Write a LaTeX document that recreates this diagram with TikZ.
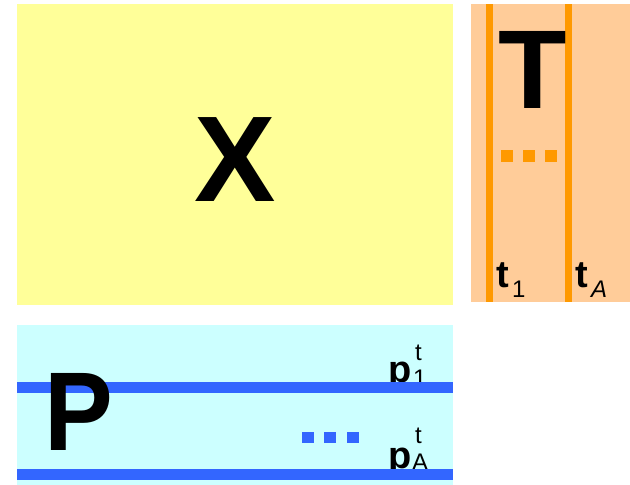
\documentclass[tikz,border=0pt]{standalone}
\usepackage{fontspec}
\setmainfont{Liberation Sans}
\definecolor{xyellow}{HTML}{FFFF99}
\definecolor{tpeach}{HTML}{FFCC99}
\definecolor{torange}{HTML}{FF9900}
\definecolor{pcyan}{HTML}{CCFFFF}
\definecolor{pblue}{HTML}{3366FF}
\begin{document}
\begin{tikzpicture}[x=1pt,y=-1pt,
  bigletter/.style={inner sep=0pt, anchor=base, font=\bfseries\fontsize{#1}{#1}\selectfont},
  vec/.style={inner sep=0pt, anchor=base west, font=\bfseries\fontsize{38}{40}\selectfont},
  idx/.style={inner sep=0pt, anchor=base west, font=\fontsize{24}{26}\selectfont},
  tline/.style={torange, line width=7pt},
  pline/.style={pblue, line width=11pt},
]
\useasboundingbox (0,0) rectangle (630,485);
% X block
\fill[xyellow] (17,4) rectangle (453,305);
\node[bigletter=122] (X) at (235,201) {X};
% T block
\fill[tpeach] (471,4) rectangle (630,302);
\draw[tline] (489.5,4) -- (489.5,302);
\draw[tline] (568.5,4) -- (568.5,302);
\node[bigletter=112] (T) at (532.5,108) {T};
\foreach \x in {501,523,545}
  \fill[torange] (\x,150) rectangle ++(11.5,12);
\node[vec] (t1) at (496,287) {t};
\node[idx] (t1i) at (512,297) {1};
\node[vec] (tA) at (575,287) {t};
\node[idx] (tAi) at (591,297) {\itshape A};
% P block
\fill[pcyan] (17,325) rectangle (453,485);
\node[vec] (p1) at (388,382) {p};
\node[idx] (p1i) at (413,386) {1};
\node[idx] (p1s) at (415,360) {t};
\node[vec] (pA) at (388,468) {p};
\node[idx] (pAi) at (412,470) {A};
\node[idx] (pAs) at (415,443) {t};
\draw[pline] (17,387.5) -- (453,387.5);
\draw[pline] (17,474) -- (453,474);
\foreach \x in {302,324,347}
  \fill[pblue] (\x,432) rectangle ++(11.5,11);
\node[bigletter=112, xscale=0.92] (P) at (79,450) {P};
\end{tikzpicture}
\end{document}
